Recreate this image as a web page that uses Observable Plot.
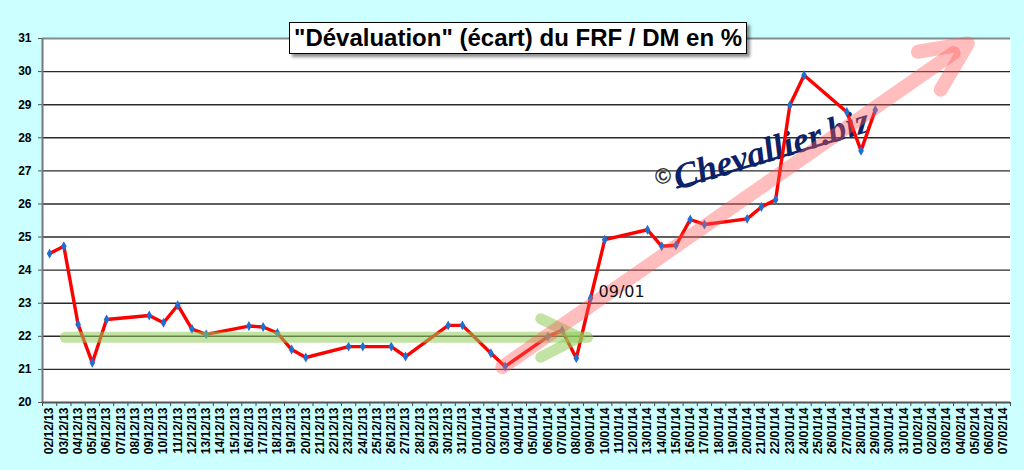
<!DOCTYPE html>
<html><head><meta charset="utf-8">
<script src="https://cdn.jsdelivr.net/npm/d3@7"></script>
<script src="https://cdn.jsdelivr.net/npm/@observablehq/plot@0.6"></script>
<style>
html,body{margin:0;padding:0;background:#ccffff;}
#wrap{position:relative;width:1024px;height:470px;overflow:hidden;}
#title{position:absolute;left:289px;top:22px;background:#fff;border:1px solid #000;box-shadow:3px 3px 3px rgba(0,0,0,0.45);font:bold 24px "Liberation Sans",Arial,sans-serif;padding:0 4px;line-height:30px;white-space:nowrap;color:#000;z-index:2}
</style></head><body>
<div id="wrap"><div id="title">"Dévaluation" (écart) du FRF / DM en %</div></div>
<script>
const dates = ["02/12/13","03/12/13","04/12/13","05/12/13","06/12/13","07/12/13","08/12/13","09/12/13","10/12/13","11/12/13","12/12/13","13/12/13","14/12/13","15/12/13","16/12/13","17/12/13","18/12/13","19/12/13","20/12/13","21/12/13","22/12/13","23/12/13","24/12/13","25/12/13","26/12/13","27/12/13","28/12/13","29/12/13","30/12/13","31/12/13","01/01/14","02/01/14","03/01/14","04/01/14","05/01/14","06/01/14","07/01/14","08/01/14","09/01/14","10/01/14","11/01/14","12/01/14","13/01/14","14/01/14","15/01/14","16/01/14","17/01/14","18/01/14","19/01/14","20/01/14","21/01/14","22/01/14","23/01/14","24/01/14","25/01/14","26/01/14","27/01/14","28/01/14","29/01/14","30/01/14","31/01/14","01/02/14","02/02/14","03/02/14","04/02/14","05/02/14","06/02/14","07/02/14"];
const obsDates = ["02/12/13","03/12/13","04/12/13","05/12/13","06/12/13","09/12/13","10/12/13","11/12/13","12/12/13","13/12/13","16/12/13","17/12/13","18/12/13","19/12/13","20/12/13","23/12/13","24/12/13","26/12/13","27/12/13","30/12/13","31/12/13","02/01/14","03/01/14","06/01/14","07/01/14","08/01/14","09/01/14","10/01/14","13/01/14","14/01/14","15/01/14","16/01/14","17/01/14","20/01/14","21/01/14","22/01/14","23/01/14","24/01/14","27/01/14","28/01/14","29/01/14"];
const obsValues = [24.50,24.72,22.36,21.20,22.51,22.63,22.41,22.94,22.22,22.06,22.31,22.28,22.10,21.60,21.36,21.69,21.69,21.69,21.39,22.33,22.33,21.49,21.09,21.99,22.18,21.34,23.15,24.92,25.22,24.72,24.75,25.53,25.38,25.55,25.91,26.13,28.98,29.89,28.78,27.61,28.84];
const yTicks = [20,21,22,23,24,25,26,27,28,29,30,31];

// annotations (x in day-slot units, y in %)
const greenBand = [{x:1.6,y:21.97},{x:38.3,y:21.97}];
const greenHead = [{x:35.0,y:22.53},{x:37.7,y:21.97},{x:35.0,y:21.37}];
const pinkShaft = [{x:32.3,y:21.07},{x:64.0,y:30.56}];
const pinkHead = [{x:61.5,y:30.6},{x:65.0,y:30.85},{x:63.1,y:29.45}];
const noteLabels = [{x:39.06,y:23.35,text:"09/01"}];
const watermark = [{x:51.2,y:27.65,text:"Chevallier.biz"}];
const copyright = [{x:43.6,y:26.83,text:"©"}];
const underline = [{x:44.6,y:26.5},{x:56.3,y:28.0}];

const series = obsDates.map((d,i)=>({x: dates.indexOf(d)+0.5, y: obsValues[i]}));
const slotCenters = dates.map((d,i)=>i+0.5);
const slotEdges = d3.range(dates.length+1);

const chart = Plot.plot({
  width:1024, height:470, marginLeft:42, marginRight:14, marginTop:38, marginBottom:68,
  style:{background:"#ccffff", fontFamily:"'Liberation Sans', Arial, sans-serif"},
  x:{domain:[0, dates.length], axis:null},
  y:{domain:[20,31], axis:null},
  marks:[
    Plot.frame({fill:"white", stroke:"none"}),
    Plot.ruleY(yTicks.filter(v=>v>20 && v<31), {stroke:"#2a2a2a", strokeWidth:1.4}),
    Plot.ruleY([31], {stroke:"#7f8c8c", strokeWidth:2}),
    Plot.axisY({ticks:yTicks, label:null, tickSize:4, tickPadding:7, fontSize:12, fontWeight:"bold", stroke:"#555", fill:"#000"}),
    Plot.axisX({ticks:slotCenters, label:null, tickFormat:v=>dates[Math.floor(v)], tickSize:0, tickPadding:5, tickRotate:-90, fontSize:12, fontWeight:"bold", fill:"#000"}),
    Plot.axisX({ticks:slotEdges, label:null, tickFormat:()=>"", tickSize:4, stroke:"#444"}),
    Plot.ruleX([0], {stroke:"#777", strokeWidth:2}),
    Plot.ruleY([20], {stroke:"#555", strokeWidth:2}),
    Plot.line(underline, {x:"x", y:"y", stroke:"#0c2266", strokeWidth:2.5}),
    Plot.text(watermark, {x:"x", y:"y", text:"text", rotate:-17, fontSize:36, fontStyle:"italic", fontWeight:"bold", fontFamily:"'Liberation Serif', serif", fill:"#0c2266"}),
    Plot.text(copyright, {x:"x", y:"y", text:"text", rotate:-17, fontSize:22, fontWeight:"bold", fill:"#333"}),
    Plot.line(series, {x:"x", y:"y", stroke:"#ff0000", strokeWidth:3.4}),
    Plot.dot(series, {x:"x", y:"y", symbol:"diamond", r:3, fill:"#1f6fd0"}),
    Plot.line(greenBand, {x:"x", y:"y", stroke:"#8fcc5a", strokeWidth:11, strokeOpacity:0.55}),
    Plot.line(greenHead, {x:"x", y:"y", stroke:"#8fcc5a", strokeWidth:11, strokeOpacity:0.55, strokeLinecap:"round", strokeLinejoin:"round"}),
    Plot.line(pinkShaft, {x:"x", y:"y", stroke:"#ff5a5a", strokeWidth:14, strokeOpacity:0.4}),
    Plot.line(pinkHead, {x:"x", y:"y", stroke:"#ff5a5a", strokeWidth:14, strokeOpacity:0.4, strokeLinecap:"round", strokeLinejoin:"round"}),
    Plot.text(noteLabels, {x:"x", y:"y", text:"text", textAnchor:"start", fontSize:16, fontFamily:"'DejaVu Sans', sans-serif", fill:"#111"})
  ]
});
document.getElementById("wrap").appendChild(chart);
</script>
</body></html>
